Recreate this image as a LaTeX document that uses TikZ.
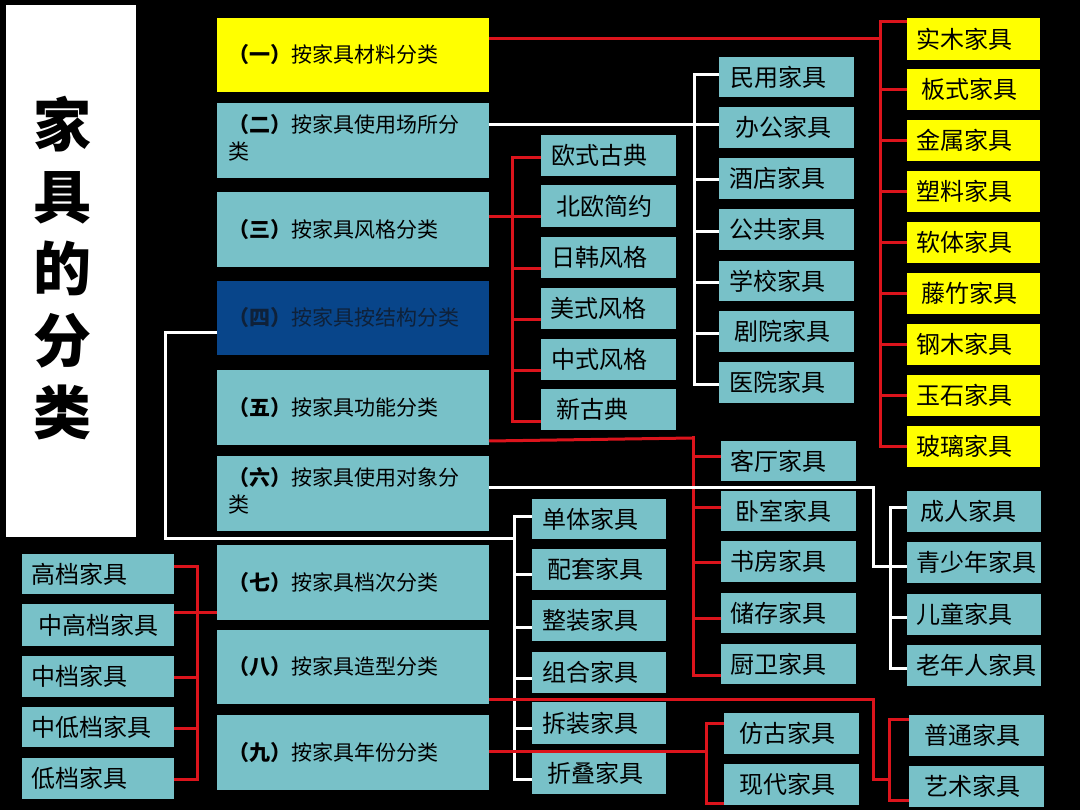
\documentclass[tikz,border=0pt]{standalone}
\usepackage{fontspec}
\setmainfont{Noto Sans CJK SC}
\usetikzlibrary{calc}
\definecolor{boxteal}{HTML}{78C1C8}
\definecolor{boxyel}{HTML}{FFFF00}
\definecolor{boxnavy}{HTML}{08458A}
\definecolor{navytext}{HTML}{0F2139}
\definecolor{linered}{HTML}{DC141C}
\newcommand\bx[8]{%
  \pgfmathsetmacro\bxw{#5-#3}\pgfmathsetmacro\bxh{#6-#4}\pgfmathsetmacro\bxt{#5-#3-2*#7}%
  \node[#2, minimum width=\bxw pt, minimum height=\bxh pt, inner xsep=#7 pt, inner ysep=0pt]
    (#1) at ({(#3+#5)/2},{(#4+#6)/2}) {\makebox[\bxt pt][l]{#8}};}
\begin{document}
\begin{tikzpicture}[x=1pt,y=-1pt,
  basebox/.style={rectangle, outer sep=0pt, text=black},
  leaf/.style={basebox, fill=boxteal, font=\fontsize{24}{28}\selectfont},
  yleaf/.style={leaf, fill=boxyel},
  mainbox/.style={basebox, fill=boxteal, font=\fontsize{21}{27}\selectfont},
  ymain/.style={mainbox, fill=boxyel},
  nmain/.style={mainbox, fill=boxnavy, text=navytext},
  redl/.style={draw=linered, line width=3pt},
  whitel/.style={draw=white, line width=3pt},
  busl/.style={line cap=rect}]
\fill[black] (0,0) rectangle (1080,810);
\useasboundingbox (0,0) rectangle (1080,810);

% title
\node[rectangle, fill=white, minimum width=130pt, minimum height=532pt, outer sep=0pt] (titlebox) at (71,271) {};
\node[align=center, font=\fontsize{58}{72}\selectfont\bfseries, text=black, inner sep=0pt] (title) at (62,268) {家\\具\\的\\分\\类};

% main column
\bx{m1}{ymain}{217}{18}{489}{92}{11}{{\bfseries （一）}按家具材料分类}
\bx{m2}{mainbox}{217}{103}{489}{178}{11}{\begin{tabular}{@{}l@{}}{\bfseries （二）}按家具使用场所分\\类\end{tabular}}
\bx{m3}{mainbox}{217}{192}{489}{267}{11}{{\bfseries （三）}按家具风格分类}
\bx{m4}{nmain}{217}{281}{489}{355}{11}{{\bfseries （四）}按家具按结构分类}
\bx{m5}{mainbox}{217}{370}{489}{445}{11}{{\bfseries （五）}按家具功能分类}
\bx{m6}{mainbox}{217}{456}{489}{531}{11}{\begin{tabular}{@{}l@{}}{\bfseries （六）}按家具使用对象分\\类\end{tabular}}
\bx{m7}{mainbox}{217}{545}{489}{620}{11}{{\bfseries （七）}按家具档次分类}
\bx{m8}{mainbox}{217}{630}{489}{704}{11}{{\bfseries （八）}按家具造型分类}
\bx{m9}{mainbox}{217}{715}{489}{790}{11}{{\bfseries （九）}按家具年份分类}

% material
\bx{a1}{yleaf}{907}{18}{1040}{60}{9}{实木家具}
\bx{a2}{yleaf}{907}{69}{1040}{110}{14}{板式家具}
\bx{a3}{yleaf}{907}{120}{1040}{161}{9}{金属家具}
\bx{a4}{yleaf}{907}{171}{1040}{212}{9}{塑料家具}
\bx{a5}{yleaf}{907}{222}{1040}{263}{9}{软体家具}
\bx{a6}{yleaf}{907}{273}{1040}{314}{14}{藤竹家具}
\bx{a7}{yleaf}{907}{324}{1040}{365}{9}{钢木家具}
\bx{a8}{yleaf}{907}{375}{1040}{416}{9}{玉石家具}
\bx{a9}{yleaf}{907}{426}{1040}{467}{9}{玻璃家具}

% use place
\bx{b1}{leaf}{719}{57}{854}{97}{11}{民用家具}
\bx{b2}{leaf}{719}{107}{854}{148}{16}{办公家具}
\bx{b3}{leaf}{719}{158}{854}{199}{10}{酒店家具}
\bx{b4}{leaf}{719}{209}{854}{250}{10}{公共家具}
\bx{b5}{leaf}{719}{261}{854}{301}{10}{学校家具}
\bx{b6}{leaf}{719}{311}{854}{352}{15}{剧院家具}
\bx{b7}{leaf}{719}{362}{854}{403}{10}{医院家具}

% style
\bx{c1}{leaf}{541}{135}{676}{176}{10}{欧式古典}
\bx{c2}{leaf}{541}{185}{676}{227}{15}{北欧简约}
\bx{c3}{leaf}{541}{237}{676}{278}{10}{日韩风格}
\bx{c4}{leaf}{541}{288}{676}{329}{9}{美式风格}
\bx{c5}{leaf}{541}{339}{676}{380}{10}{中式风格}
\bx{c6}{leaf}{541}{389}{676}{430}{15}{新古典}

% function
\bx{d1}{leaf}{721}{441}{856}{481}{9}{客厅家具}
\bx{d2}{leaf}{721}{491}{856}{531}{14}{卧室家具}
\bx{d3}{leaf}{721}{541}{856}{582}{9}{书房家具}
\bx{d4}{leaf}{721}{593}{856}{633}{9}{储存家具}
\bx{d5}{leaf}{721}{644}{856}{684}{9}{厨卫家具}

% user
\bx{e1}{leaf}{907}{491}{1041}{532}{13}{成人家具}
\bx{e2}{leaf}{907}{542}{1041}{583}{9}{青少年家具}
\bx{e3}{leaf}{907}{594}{1041}{635}{9}{儿童家具}
\bx{e4}{leaf}{907}{645}{1041}{686}{9}{老年人家具}

% structure
\bx{f1}{leaf}{532}{499}{666}{539}{10}{单体家具}
\bx{f2}{leaf}{532}{549}{666}{590}{15}{配套家具}
\bx{f3}{leaf}{532}{600}{666}{641}{10}{整装家具}
\bx{f4}{leaf}{532}{652}{666}{693}{10}{组合家具}
\bx{f5}{leaf}{532}{702}{666}{744}{10}{拆装家具}
\bx{f6}{leaf}{532}{753}{666}{794}{15}{折叠家具}

% year
\bx{g1}{leaf}{724}{713}{859}{754}{15}{仿古家具}
\bx{g2}{leaf}{724}{764}{859}{805}{15}{现代家具}

% shape
\bx{h1}{leaf}{909}{715}{1044}{756}{15}{普通家具}
\bx{h2}{leaf}{909}{766}{1044}{807}{15}{艺术家具}

% grade
\bx{k1}{leaf}{22}{554}{174}{594}{9}{高档家具}
\bx{k2}{leaf}{22}{604}{174}{646}{16}{中高档家具}
\bx{k3}{leaf}{22}{656}{174}{697}{9}{中档家具}
\bx{k4}{leaf}{22}{707}{174}{747}{9}{中低档家具}
\bx{k5}{leaf}{22}{758}{174}{799}{9}{低档家具}

% bus positions
\coordinate (busA) at (880,0);
\coordinate (busB) at (694,0);
\coordinate (busC) at (512,0);
\coordinate (busD) at (693,0);
\coordinate (busE) at (890,0);
\coordinate (busF) at (514,0);
\coordinate (busG) at (706,0);
\coordinate (busH) at (889,0);
\coordinate (busK) at (197,0);
\coordinate (turnF) at (165,0);
\coordinate (turnE) at (873,0);
\coordinate (turnH) at (873,0);

% material (red)
\draw[redl] (m1.east |- 0,39) -- (busA |- 0,39);
\draw[redl,busl] (busA |- 0,22) -- (busA |- 0,447);
\draw[redl] (busA |- 0,22) -- (a1.west |- 0,22);
\foreach \n in {a2,a3,a4,a5,a6,a7,a8,a9} \draw[redl] (busA |- \n.west) -- (\n.west);

% use place (white)
\draw[whitel] (m2.east |- 0,125) -- (busB |- 0,125);
\draw[whitel,busl] (busB |- 0,75) -- (busB |- 0,385);
\foreach \n/\y in {b1/75,b2/125,b3/180,b4/232,b5/283,b6/334,b7/385} \draw[whitel] (busB |- 0,\y) -- (\n.west |- 0,\y);

% style (red)
\draw[redl] (m3.east |- 0,217) -- (busC |- 0,217);
\draw[redl,busl] (busC |- 0,158) -- (busC |- 0,422);
\foreach \n/\y in {c1/158,c2/217,c3/269,c4/320,c5/371,c6/422} \draw[redl] (busC |- 0,\y) -- (\n.west |- 0,\y);

% structure (white)
\draw[whitel] (m4.west |- 0,333) -- (turnF |- 0,333) -- (turnF |- 0,538) -- (busF |- 0,538);
\draw[whitel,busl] (busF |- 0,516) -- (busF |- 0,779);
\foreach \n/\y in {f1/516,f2/574,f3/627,f4/678,f5/728,f6/779} \draw[whitel] (busF |- 0,\y) -- (\n.west |- 0,\y);

% function (red)
\draw[redl] (m5.east |- 0,441) -- (busD |- 0,438);
\draw[redl,busl] (busD |- 0,438) -- (busD |- 0,675);
\foreach \n/\y in {d1/457,d2/507,d3/562,d4/618,d5/675} \draw[redl] (busD |- 0,\y) -- (\n.west |- 0,\y);

% user (white)
\draw[whitel] (m6.east |- 0,487) -- (turnE |- 0,487) -- (turnE |- 0,566) -- (e2.west |- 0,566);
\draw[whitel,busl] (busE |- 0,507) -- (busE |- 0,668);
\foreach \n/\y in {e1/507,e3/617,e4/668} \draw[whitel] (busE |- 0,\y) -- (\n.west |- 0,\y);

% grade (red)
\draw[redl] (k2.east |- 0,612) -- (m7.west |- 0,612);
\draw[redl,busl] (busK |- 0,566) -- (busK |- 0,779);
\foreach \n/\y in {k1/566,k3/677,k4/728,k5/779} \draw[redl] (\n.east |- 0,\y) -- (busK |- 0,\y);

% shape (red)
\draw[redl] (m8.east |- 0,699) -- (turnH |- 0,699) -- (turnH |- 0,779) -- (busH |- 0,779);
\draw[redl,busl] (busH |- 0,719) -- (busH |- 0,800);
\foreach \n/\y in {h1/719,h2/800} \draw[redl] (busH |- 0,\y) -- (\n.west |- 0,\y);

% year (red)
\draw[redl] (m9.east |- 0,751) -- (busG |- 0,751);
\draw[redl,busl] (busG |- 0,723) -- (busG |- 0,803);
\foreach \n/\y in {g1/723,g2/803} \draw[redl] (busG |- 0,\y) -- (\n.west |- 0,\y);
\end{tikzpicture}
\end{document}
